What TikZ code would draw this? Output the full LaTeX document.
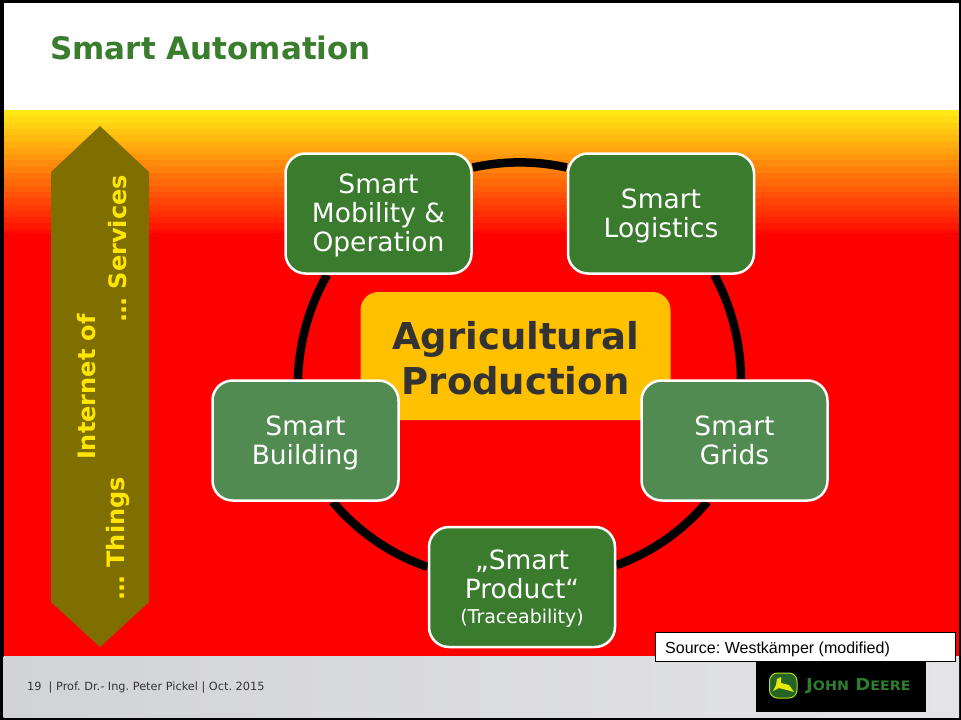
\documentclass[tikz,border=0pt]{standalone}
\usepackage{fontspec}
\setmainfont{DejaVu Sans}
\newfontfamily\sourcefont{Liberation Sans}

\definecolor{titlegreen}{RGB}{58,125,45}
\definecolor{darkbox}{RGB}{58,123,46}
\definecolor{lightbox}{RGB}{82,139,82}
\definecolor{topyellow}{RGB}{255,232,20}
\definecolor{arrowolive}{RGB}{127,111,0}
\definecolor{textyellow}{RGB}{255,230,0}
\definecolor{corebox}{RGB}{255,192,0}
\definecolor{coretext}{RGB}{51,51,51}
\definecolor{footerleft}{RGB}{210,211,213}
\definecolor{footerright}{RGB}{228,228,230}
\definecolor{deeregreen}{RGB}{46,125,46}

\pgfdeclarelayer{front}
\pgfsetlayers{main,front}

\newcommand{\tightdots}{.\kern-1.2pt.\kern-1.2pt.}
\newcommand{\boxtop}{\rule{0pt}{27.5pt}}

\tikzset{
    smartbox/.style = {draw = white, line width = 2.5pt, rounded corners = 20pt, inner sep = 0pt,
        minimum width = 186pt, minimum height = 120pt, align = center, text = white,
        font = \fontsize{26.5}{29}\selectfont, execute at end node = {\strut}},
    darksmart/.style = {smartbox, fill = darkbox},
    lightsmart/.style = {smartbox, fill = lightbox},
    ringarc/.style = {line width = 8.5pt, black, looseness = .87},
    arrowtext/.style = {rotate = 90, text = textyellow, inner sep = 0pt, font = \bfseries\fontsize{24}{24}\selectfont}
}

\begin{document}
\frenchspacing
\begin{tikzpicture}[x = 1pt, y = -1pt]
    \fill [black] (0, 0) rectangle (961, 720); % Frame
    \fill [white] (3.5, 2.5) rectangle (959, 717);

    % Banded backdrop
    \fill [red] (3.5, 110) rectangle (959, 656);
    \foreach \band in {0, ..., 19} {
        \pgfmathsetmacro{\bandpct}{\band * 100 / 20}
        \fill [red!\bandpct!topyellow] (3.5, 110 + 6.3 * \band) rectangle (959, 233);
    }
    \shade [left color = footerleft, right color = footerright] (3.5, 656) rectangle (959, 717);

    \node (title) [anchor = west, inner sep = 0pt, text = titlegreen, font = \bfseries\fontsize{31}{31}\selectfont] at (50, 48) {Smart Automation};

    % Double arrow
    \fill [arrowolive] (100, 126) -- (149, 172) -- (149, 602) -- (100, 647) -- (51, 602) -- (51, 172) -- cycle;
    \node (internet) [arrowtext, anchor = east] at (87, 314) {Internet of};
    \node (services) [arrowtext, anchor = east] at (118, 175) {\tightdots{} Services};
    \node (things) [arrowtext, anchor = east] at (118, 477) {\tightdots{} Things};

    \begin{pgfonlayer}{front}
        \node (core) [fill = corebox, rounded corners = 18pt, minimum width = 310pt, minimum height = 128pt, inner sep = 0pt,
            align = center, text = coretext, font = \bfseries\fontsize{37}{45}\selectfont] at (515.5, 356) {\rule{0pt}{33pt}Agricultural\\Production};

        \node (mobility) [darksmart] at (378.5, 213.5) {\boxtop Smart\\Mobility \&\\Operation};
        \node (logistics) [darksmart] at (661, 213.5) {\boxtop Smart\\Logistics};
        \node (grids) [lightsmart] at (734.5, 440.5) {\boxtop Smart\\Grids};
        \node (building) [lightsmart] at (305.5, 440.5) {\boxtop Smart\\Building};
        \node (product) [darksmart] at (522, 587) {\boxtop „Smart\\Product“\\[-4pt]{\fontsize{19}{21}\selectfont (Traceability)}};
    \end{pgfonlayer}

    % Ring between the boxes
    \draw [ringarc] (mobility.26) to [bend left = 12.4] (logistics.154);
    \draw [ringarc] (logistics.-49) to [bend left = 14] (grids.84);
    \draw [ringarc] (grids.-114) to [bend left = 15] (product.13);
    \draw [ringarc] (product.168) to [bend left = 15.5] (building.-66);
    \draw [ringarc] (building.97) to [bend left = 14] (mobility.-130);

    \node (footer) [anchor = west, inner sep = 0pt, text = black!80, font = \fontsize{11.3}{12}\selectfont] at (27, 688) {19\ \ | Prof. Dr.- Ing. Peter Pickel | Oct. 2015};

    % Logo
    \node (logo) [fill = black, minimum width = 170pt, minimum height = 51pt, inner sep = 0pt] at (841, 686.5) {};
    \fill [deeregreen!80!black, draw = yellow!70!green, line width = 1pt, rounded corners = 8pt] (769.5, 673) rectangle (797, 698);
    \fill [yellow!90!green] (794, 692) -- (789, 685) -- (781, 683) -- (781, 677) -- (777, 679) -- (776, 685) -- (773, 691) -- (779, 688) -- (787, 690) -- cycle;
    \node (deere) [anchor = west, inner sep = 0pt, text = deeregreen] at (806, 686.5) {\scalebox{1.1}[1]{\bfseries\fontsize{16.5}{17}\selectfont J{\fontsize{13}{14}\selectfont OHN} D{\fontsize{13}{14}\selectfont EERE}}};

    \node (source) [draw = black, fill = white, line width = .8pt, minimum width = 300pt, minimum height = 29pt, inner sep = 0pt] at (805.5, 646.5) {};
    \node (sourcetext) [anchor = west, inner sep = 0pt, font = \sourcefont\fontsize{16}{16}\selectfont] at (665, 649) {Source: Westkämper (modified)};
\end{tikzpicture}
\end{document}
